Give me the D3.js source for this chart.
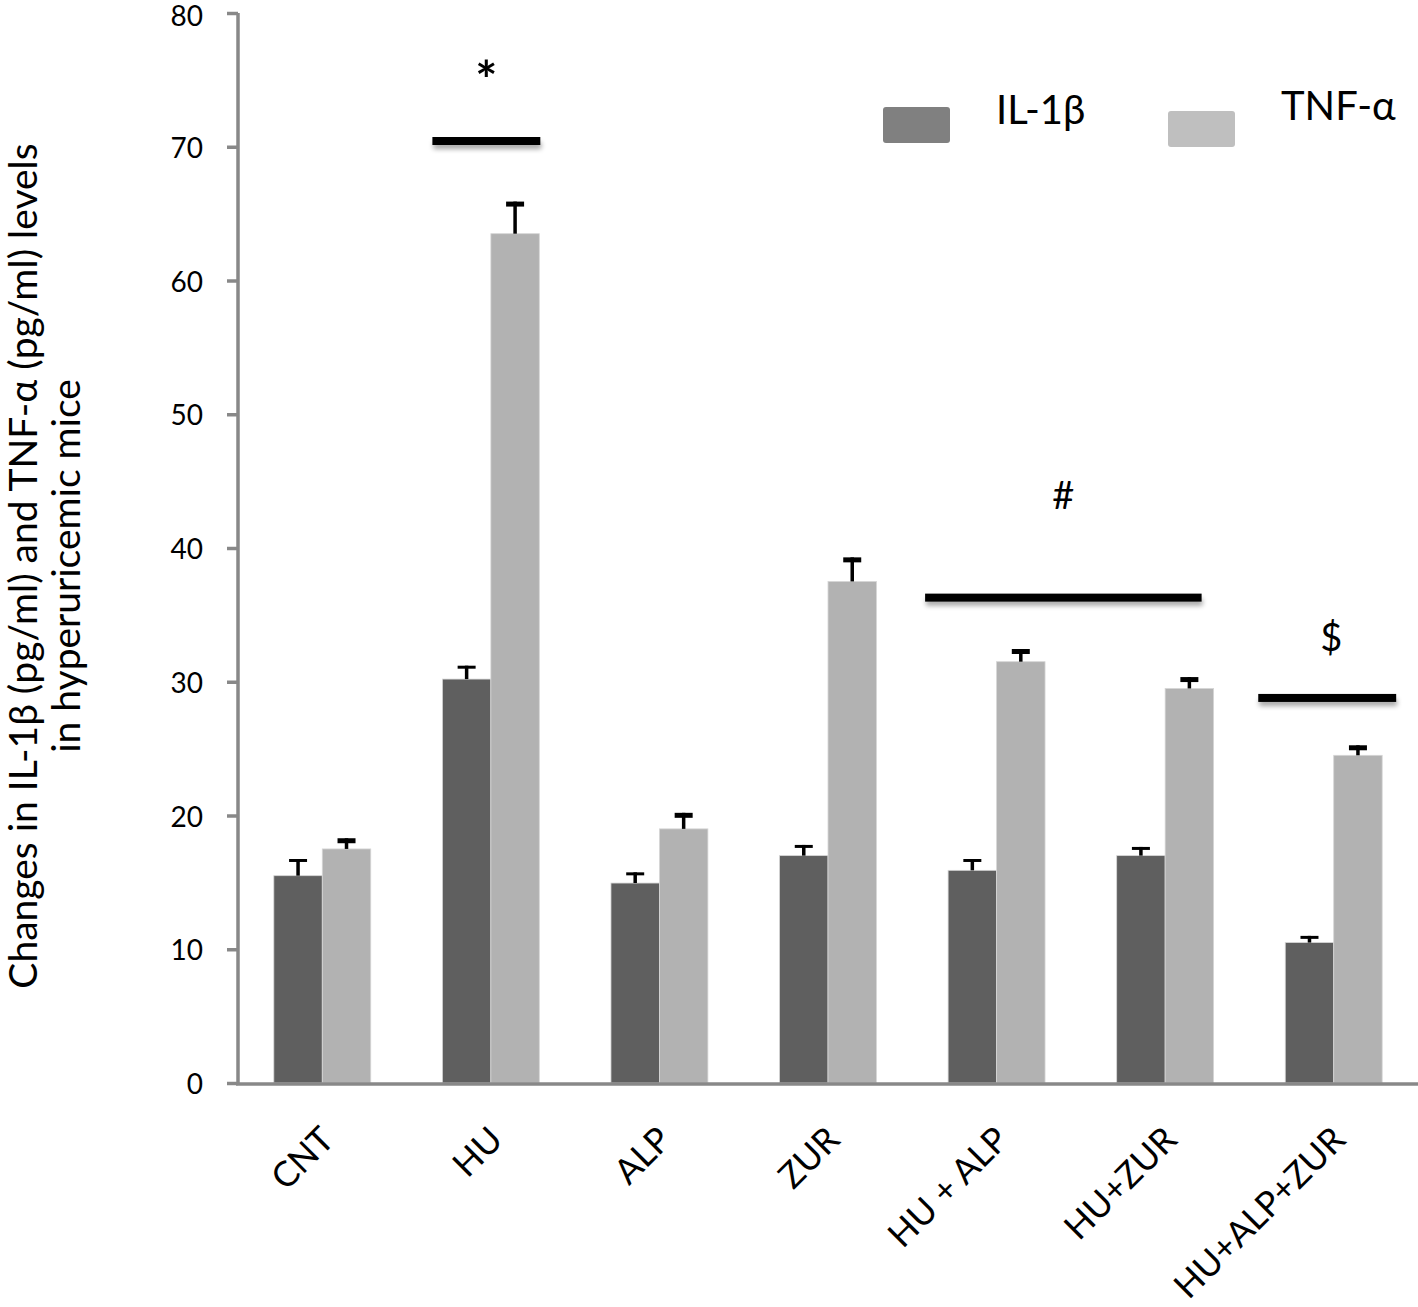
<!DOCTYPE html>
<html><head><meta charset="utf-8">
<script src="https://cdn.jsdelivr.net/npm/d3@7"></script>
<style>body{margin:0;background:#fff}svg{display:block}text{font-family:Lato,"Open Sans",sans-serif}</style>
</head><body>
<script>
const categories = ["CNT","HU","ALP","ZUR","HU + ALP","HU+ZUR","HU+ALP+ZUR"];
const il1b = [15.5,30.2,14.95,17.0,15.9,17.0,10.5];
const il1bErr = [1.25,1.0,0.8,0.8,0.85,0.65,0.5];
const tnfa = [17.5,63.5,19.0,37.5,31.5,29.5,24.5];
const tnfaErr = [0.8,2.4,1.2,1.8,0.95,0.85,0.75];
const yTicks = [0,10,20,30,40,50,60,70,80];
const seriesNames = ["IL-1β","TNF-α"];
const sigMarks = [
  {label:"*", from:"HU", to:"HU", level:70.43, textLevel:73.6},
  {label:"#", from:"HU + ALP", to:"HU+ZUR", level:36.29, textLevel:42.9},
  {label:"$", from:"HU+ALP+ZUR", to:"HU+ALP+ZUR", level:28.79, textLevel:32.3}
];

const W=1418,H=1307;
const svg=d3.select("body").append("svg").attr("width",W).attr("height",H);
const x0=238, x1=1418, yB=1083, yT=13;
const x=d3.scaleBand().domain(categories).range([x0,x1]).paddingInner(0.425).paddingOuter(0.2125);
const xs=d3.scaleBand().domain([0,1]).range([0,x.bandwidth()]);
const y=d3.scaleLinear().domain([0,80]).range([yB,yT]);
const colors=["#5f5f5f","#b2b2b2"];

const defs=svg.append("defs");
const f=defs.append("filter").attr("id","blur").attr("filterUnits","userSpaceOnUse")
  .attr("x",0).attr("y",0).attr("width",W).attr("height",H);
f.append("feGaussianBlur").attr("stdDeviation",2.5);

// bars
const data=[il1b,tnfa], errs=[il1bErr,tnfaErr];
data.forEach((vals,s)=>{
  const g=svg.append("g");
  g.selectAll("rect").data(vals).join("rect")
    .attr("x",(d,i)=>x(categories[i])+xs(s)).attr("width",xs.bandwidth())
    .attr("y",d=>y(d)).attr("height",d=>yB-y(d))
    .attr("fill",colors[s]).attr("stroke","#d6d6d6").attr("stroke-width",0.8);
  const e=svg.append("g");
  vals.forEach((d,i)=>{
    const cx=x(categories[i])+xs(s)+xs.bandwidth()/2;
    const top=y(d+errs[s][i]);
    e.append("line").attr("x1",cx).attr("x2",cx).attr("y1",y(d)).attr("y2",top).attr("stroke","#000").attr("stroke-width",3.5);
    e.append("line").attr("x1",cx-9).attr("x2",cx+9).attr("y1",top+(s?2.5:1.5)).attr("y2",top+(s?2.5:1.5)).attr("stroke","#000").attr("stroke-width",s?5:3);
  });
});

// axes
const ya=svg.append("g").attr("transform",`translate(${x0},0)`)
  .call(d3.axisLeft(y).tickValues(yTicks).tickSize(11).tickPadding(24));
ya.select(".domain").attr("stroke","#888").attr("stroke-width",3.5).attr("d",`M0,${yB+2}V${yT}`);
ya.selectAll(".tick line").attr("stroke","#888").attr("stroke-width",3.5);
ya.selectAll(".tick text").attr("font-size",28).attr("fill","#000").attr("font-family","Lato")
  .attr("dy",d=>d===80?"0.46em":"0.38em");
svg.append("line").attr("x1",x0-2).attr("x2",x1).attr("y1",yB+1).attr("y2",yB+1).attr("stroke","#888").attr("stroke-width",3.5);

// x labels
svg.append("g").selectAll("text").data(categories).join("text")
  .attr("transform",d=>`translate(${x(d)+x.bandwidth()/2-6},${yB+39}) rotate(-45)`)
  .attr("text-anchor","end").attr("dominant-baseline","hanging")
  .attr("font-size",35).attr("fill","#000").text(d=>d);

// y title
const yt=svg.append("text").attr("transform","translate(0,566) rotate(-90)").attr("text-anchor","middle").attr("font-size",39).attr("fill","#000");
yt.append("tspan").attr("x",0).attr("y",37).text("Changes in IL-1β (pg/ml) and TNF-α (pg/ml) levels");
yt.append("tspan").attr("x",0).attr("y",80).text("in hyperuricemic mice");

// significance
const off={"*":[-10,1],"#":[-23,-12],"$":[-27,14]};
sigMarks.forEach(m=>{
  const a=x(m.from)+off[m.label][0], b=x(m.to)+x.bandwidth()+off[m.label][1];
  const ly=y(m.level);
  svg.append("rect").attr("x",a+1).attr("y",ly+1).attr("width",b-a).attr("height",7)
    .attr("fill","#000").attr("opacity",0.35).attr("filter","url(#blur)");
  svg.append("rect").attr("x",a).attr("y",ly-4).attr("width",b-a).attr("height",8).attr("fill","#000");
  svg.append("text").attr("x",(a+b)/2+(m.label==="$"?4:0)).attr("y",y(m.textLevel)).attr("text-anchor","middle")
    .attr("font-size",m.label==="*"?52:38).attr("font-weight",m.label==="*"?"bold":"normal").attr("fill","#000").text(m.label);
});

// legend
const lg=[{n:seriesNames[0],c:"#808080",x:883,y:107,tx:996,ty:124},{n:seriesNames[1],c:"#bfbfbf",x:1168,y:111,tx:1281,ty:120}];
lg.forEach(l=>{
  svg.append("rect").attr("x",l.x).attr("y",l.y).attr("width",67).attr("height",36).attr("rx",3).attr("fill",l.c);
  svg.append("text").attr("x",l.tx).attr("y",l.ty).attr("font-size",40).attr("fill","#000").text(l.n);
});
</script>
</body></html>
